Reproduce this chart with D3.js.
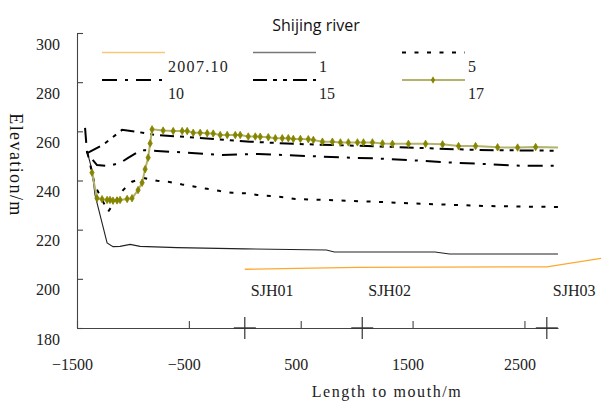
<!DOCTYPE html>
<html>
<head>
<meta charset="utf-8">
<script src="https://cdn.jsdelivr.net/npm/d3@7"></script>
<style>
  html, body { margin: 0; padding: 0; background: #fff; }
</style>
</head>
<body>
<div id="container"></div>
<script>
// profiles: [length to mouth (m), elevation (m)]
const s2007 = [[0, 203.9], [1000, 204.7], [2700, 204.9], [3200, 208.4]]
const s1 = [[-1405, 251], [-1366, 244.3], [-1339, 234.1], [-1231, 214.6], [-1178, 213.1], [-1115, 213.2],
  [-1025, 214.0], [-936, 213.2], [-605, 212.7], [0, 212.2], [730, 211.7], [800, 210.9], [1700, 210.9],
  [1830, 210.1], [2800, 210.1]]
const s5 = [[-1405, 251], [-1340, 238], [-1222, 227.3], [-1088, 236.1], [-1008, 239.5], [-900, 241.0],
  [-784, 239.9], [-685, 239.5], [-560, 238.4], [-444, 237.5], [-336, 236.6], [-220, 235.7], [-112, 235.0],
  [4, 234.8], [111, 234.1], [228, 233.7], [344, 233.2], [452, 232.5], [1141, 231.4], [1481, 230.7],
  [2171, 229.6], [2800, 229.2]]
const s10 = [[-1428, 261.4], [-1410, 251.2], [-1321, 246.3], [-1222, 245.9], [-1115, 247.1], [-1043, 249.2],
  [-927, 252.4], [-784, 252.0], [-623, 251.6], [-202, 250.4], [120, 250.8], [541, 250.0], [855, 249.4],
  [1168, 249.0], [1481, 248.3], [1750, 247.5], [2144, 246.7], [2466, 246.0], [2800, 246.0]]
const s15 = [[-1405, 251.2], [-1267, 254.5], [-1178, 257.7], [-1097, 260.6], [-963, 259.8], [-802, 258.5],
  [-515, 257.7], [49, 255.8], [434, 254.9], [1096, 254.0], [1660, 253.1], [2081, 252.4], [2800, 252.1]]
const s17 = [[-1366, 243.2], [-1321, 232.8], [-1276, 232.4], [-1231, 232.1], [-1205, 232.1], [-1178, 231.8],
  [-1142, 231.9], [-1115, 232.1], [-1052, 232.5], [-1008, 232.8], [-954, 236.1], [-918, 239.1], [-891, 244.6],
  [-864, 249.3], [-846, 255.1], [-829, 260.8], [-730, 260.3], [-640, 260.1], [-560, 260.1], [-515, 260.1],
  [-461, 259.4], [-399, 259.4], [-336, 259.2], [-282, 259.1], [-220, 258.5], [-157, 258.5], [-85, 258.5],
  [-41, 258.5], [31, 257.9], [94, 257.9], [138, 257.8], [210, 257.6], [273, 257.2], [335, 257.2], [389, 257.2],
  [434, 256.9], [497, 256.9], [568, 256.8], [613, 256.5], [694, 255.8], [783, 255.8], [855, 255.5], [926, 255.5],
  [1007, 255.5], [1061, 255.5], [1141, 255.5], [1231, 255.1], [1320, 254.9], [1463, 254.9], [1616, 254.9],
  [1768, 254.7], [1911, 254.0], [2063, 254.0], [2260, 253.5], [2439, 253.4], [2600, 253.6], [2800, 253.4]]

const seriesNames = ['2007.10', '1', '5', '10', '15', '17']
const seriesData = [s2007, s1, s5, s10, s15, s17]

const xTicks = [-1500, -500, 500, 1500, 2500]
const yTicks = [180, 200, 220, 240, 260, 280, 300]
const sectionNames = ['SJH01', 'SJH02', 'SJH03']
const sectionPos = [0, 1050, 2700]

const width = 601
const height = 401
const serif = '"Liberation Serif", "DejaVu Serif", serif'

// 线型
const lineStyle = {
  '2007.10': { stroke: '#ffa82e', width: 1.3, dash: null },
  '1': { stroke: '#222', width: 1.1, dash: null },
  '5': { stroke: '#000', width: 2, dash: '4 8.5' },
  '10': { stroke: '#000', width: 2, dash: '15 8 3 8' },
  '15': { stroke: '#000', width: 2, dash: '14 6 4 6 4 6' },
  '17': { stroke: '#b3b36c', width: 2, dash: null }
}
const legendPos = [[102, 52.5], [253, 52.5], [402, 52.5], [102, 80], [253, 80], [402, 80]]

const x = d3.scaleLinear().domain([-1500, 2800]).range([77, 558])
const y = d3.scaleLinear().domain([180, 300]).range([328, 33])

const svg = d3.select('#container')
  .append('svg')
  .attr('xmlns', 'http://www.w3.org/2000/svg')
  .attr('width', width)
  .attr('height', height)

// axes
const yAxis = svg.append('g')
  .attr('transform', `translate(${x(-1500)},0)`)
  .call(d3.axisLeft(y).tickValues(yTicks).tickSize(-6).tickSizeOuter(0).tickPadding(17))
yAxis.selectAll('text').attr('dy', '1em')

const xAxis = svg.append('g')
  .attr('transform', `translate(0,${y(180)})`)
  .call(d3.axisBottom(x).tickValues(xTicks).tickFormat(d3.format('d')).tickSize(-7).tickSizeOuter(0))
xAxis.selectAll('text').attr('y', 42).attr('dy', 0).attr('dx', -5)

svg.selectAll('.tick text')
  .style('font-family', serif)
  .style('font-size', '16px')
  .attr('fill', '#222')
svg.selectAll('.domain, .tick line').attr('stroke', '#444').attr('stroke-width', 1.1)

// section markers
svg.selectAll('.sec-v')
  .data(sectionPos)
  .enter().append('line')
  .attr('x1', d => x(d)).attr('x2', d => x(d))
  .attr('y1', y(180) - 11).attr('y2', y(180) + 11)
  .attr('stroke', '#333').attr('stroke-width', 1.2)
svg.selectAll('.sec-h')
  .data(sectionPos)
  .enter().append('line')
  .attr('x1', d => x(d) - 11).attr('x2', d => x(d) + 11)
  .attr('y1', y(180)).attr('y2', y(180))
  .attr('stroke', '#333').attr('stroke-width', 1.4)
svg.selectAll('.sec-label')
  .data(sectionNames)
  .enter().append('text')
  .attr('x', (d, i) => x(sectionPos[i]) + 6)
  .attr('y', 296)
  .style('font-family', serif)
  .style('font-size', '16px')
  .attr('fill', '#222')
  .text(d => d)

// profiles
const line = d3.line().x(d => x(d[0])).y(d => y(d[1]))
seriesNames.forEach((name, i) => {
  const st = lineStyle[name]
  svg.append('path')
    .datum(seriesData[i])
    .attr('d', line)
    .attr('fill', 'none')
    .attr('stroke', st.stroke)
    .attr('stroke-width', st.width)
    .attr('stroke-dasharray', st.dash)
})

const diamond = d3.symbol().type(d3.symbolDiamond).size(16)
svg.selectAll('.mk')
  .data(s17.slice(0, -1))
  .enter().append('path')
  .attr('d', diamond)
  .attr('transform', d => `translate(${x(d[0])},${y(d[1])})`)
  .attr('fill', '#858500')
  .attr('stroke', '#858500')
  .attr('stroke-width', 0.8)

// legend
seriesNames.forEach((name, i) => {
  const st = lineStyle[name]
  const [lx, ly] = legendPos[i]
  svg.append('line')
    .attr('x1', lx).attr('x2', lx + 63)
    .attr('y1', ly).attr('y2', ly)
    .attr('stroke', name === '1' ? '#777' : (name === '2007.10' ? '#fbc57a' : st.stroke))
    .attr('stroke-width', name === '1' || name === '2007.10' ? 1.6 : st.width)
    .attr('stroke-dasharray', st.dash)
  if (name === '17') {
    svg.append('path')
      .attr('d', diamond)
      .attr('transform', `translate(${lx + 31},${ly})`)
      .attr('fill', '#858500')
  }
  svg.append('text')
    .attr('x', lx + 66)
    .attr('y', ly + 19)
    .style('font-family', serif)
    .style('font-size', '16px')
    .style('letter-spacing', name === '2007.10' ? '1.3px' : '0px')
    .attr('fill', '#222')
    .text(name)
})

// titles
svg.append('text')
  .attr('x', 316).attr('y', 31)
  .attr('text-anchor', 'middle')
  .style('font-family', '"Open Sans", "Noto Sans", sans-serif')
  .style('font-size', '16px')
  .attr('fill', '#111')
  .text('Shijing river')

svg.append('text')
  .attr('x', 387).attr('y', 397)
  .attr('text-anchor', 'middle')
  .style('font-family', serif)
  .style('font-size', '16px')
  .style('letter-spacing', '1.6px')
  .attr('fill', '#222')
  .text('Length to mouth/m')

svg.append('text')
  .attr('transform', 'translate(9.5,165) rotate(90)')
  .attr('text-anchor', 'middle')
  .style('font-family', serif)
  .style('font-size', '18px')
  .style('letter-spacing', '1.4px')
  .attr('fill', '#111')
  .text('Elevation/m')
</script>
</body>
</html>
